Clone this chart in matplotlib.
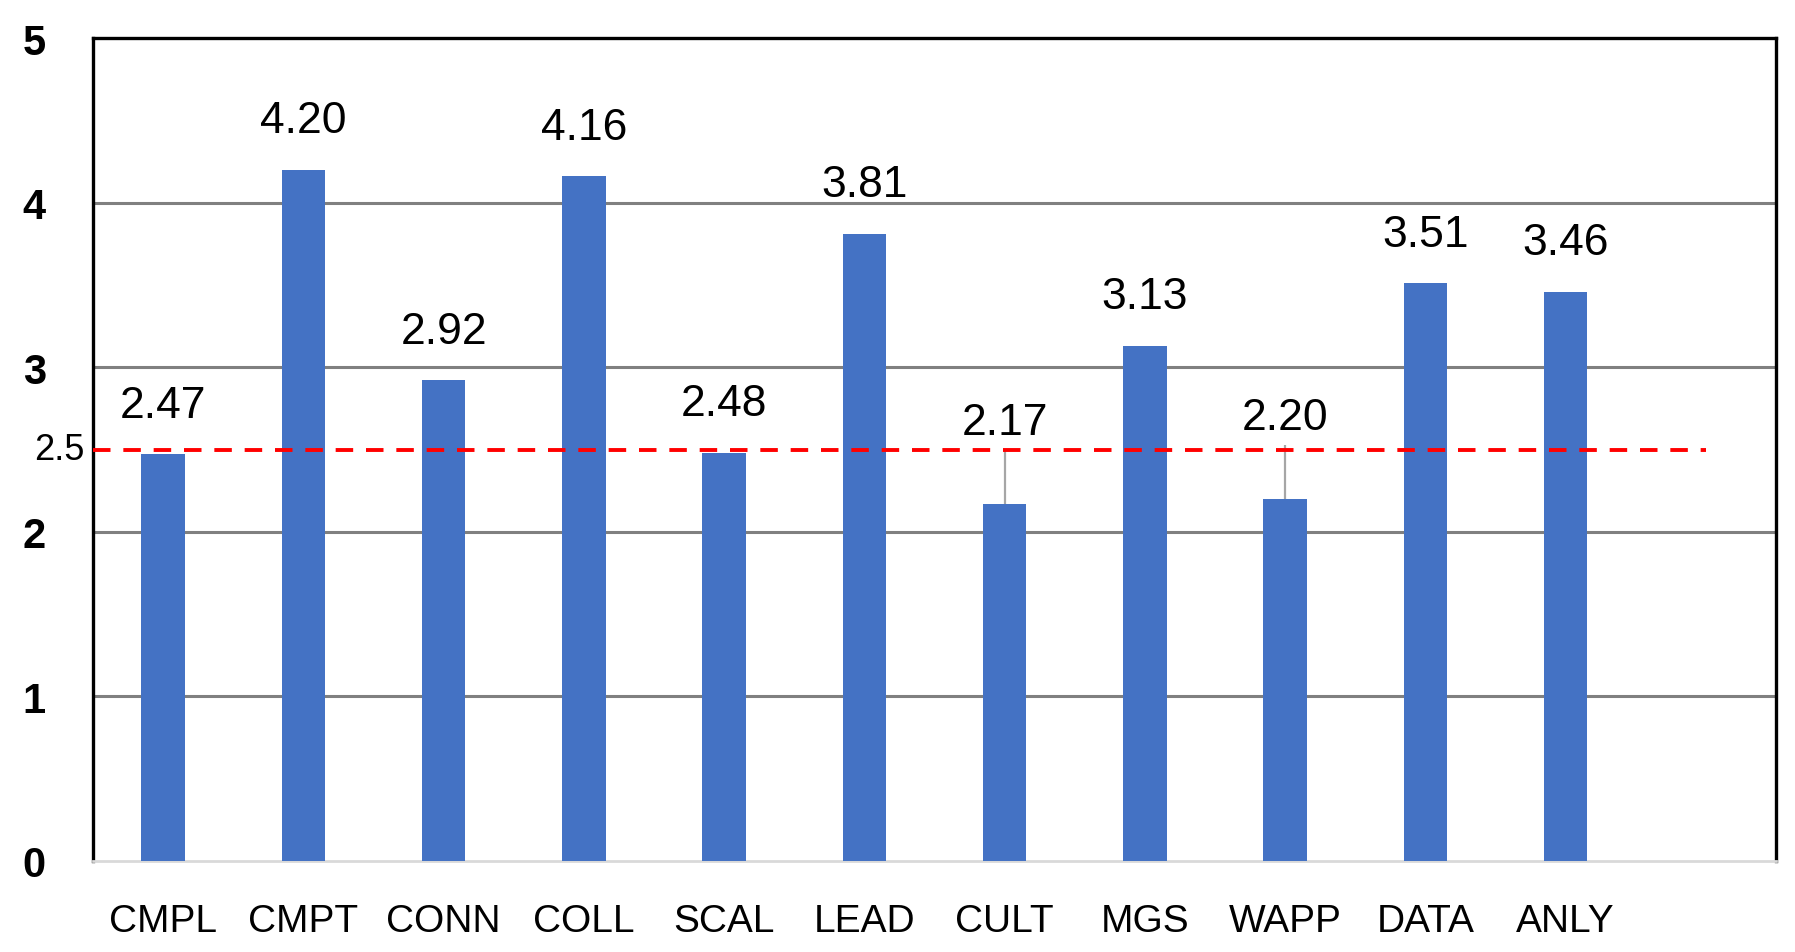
import numpy as np
import matplotlib
matplotlib.use("Agg")
import matplotlib.pyplot as plt
import matplotlib.transforms as mtransforms

categories = ["CMPL", "CMPT", "CONN", "COLL", "SCAL", "LEAD", "CULT", "MGS", "WAPP", "DATA", "ANLY"]
scores = [2.47, 4.20, 2.92, 4.16, 2.48, 3.81, 2.17, 3.13, 2.20, 3.51, 3.46]
upper_err = [0, 0, 0, 0, 0, 0, 0.33, 0, 0.33, 0, 0]
threshold = 2.5
y_ticks = [0, 1, 2, 3, 4, 5]

plt.rcParams['font.family'] = ['Liberation Sans', 'DejaVu Sans']

fig = plt.figure(figsize=(17.95, 9.53), dpi=100)
ax = fig.add_axes([0.0518, 0.0955, 0.9376, 0.8635])

x = np.arange(len(categories))
ax.bar(x, scores, width=0.31, color="#4472C4", zorder=3)

# gray upper whiskers on the two low bars
for xi, s, e in zip(x, scores, upper_err):
    if e > 0:
        ax.vlines(xi, s, s + e, color="#a6a6a6", lw=1.6, zorder=2)

# threshold line
ax.plot([-0.5, len(categories)], [threshold, threshold], color="red", lw=2.8,
        dashes=(4.5, 3.3), zorder=4)

# value labels
for xi, s, e in zip(x, scores, upper_err):
    top = s + e
    off = 11 if e > 0 else 27
    ax.annotate(f"{s:.2f}", (xi, top), xytext=(0, off), textcoords="offset points",
                ha="center", va="baseline", fontsize=32)

ax.set_xlim(-0.5, len(categories) + 0.5)
ax.set_ylim(0, 5)
ax.set_yticks(y_ticks)
ax.set_yticklabels([str(t) for t in y_ticks], fontsize=30, fontweight="bold")
ax.set_xticks(x)
ax.set_xticklabels(categories, fontsize=28)
ax.tick_params(axis="y", length=0, pad=34)
ax.tick_params(axis="x", length=0, pad=30)

for t in [1, 2, 3, 4]:
    ax.axhline(t, color="#808080", lw=2.2, zorder=1)

ax.spines["left"].set_linewidth(2.4)
ax.spines["top"].set_linewidth(2.4)
ax.spines["right"].set_linewidth(2.4)
ax.spines["bottom"].set_color("#d9d9d9")
ax.spines["bottom"].set_linewidth(2)

trans = mtransforms.blended_transform_factory(ax.transAxes, ax.transData)
ax.text(-0.005, threshold, "2.5", transform=trans, ha="right", va="center", fontsize=26)

fig.savefig("out.png", dpi=100)
